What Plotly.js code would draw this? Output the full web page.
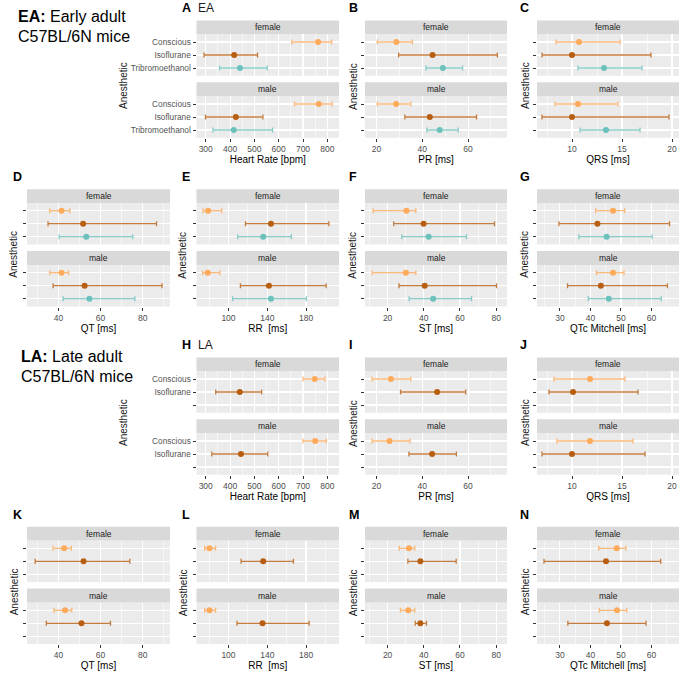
<!DOCTYPE html>
<html>
<head>
<meta charset="utf-8">
<script src="https://cdn.plot.ly/plotly-3.0.1.min.js"></script>
<style>
  html, body { margin: 0; padding: 0; background: #fff; }
  #fig { width: 685px; height: 682px; }
</style>
</head>
<body>
<div id="fig"></div>
<script>
// ECG intervals by anesthetic, faceted by sex — early adult (EA) vs late adult (LA)
const W = 685, H = 682;
const GROUPS = ['Conscious', 'Isoflurane', 'Tribromoethanol'];
const SEXES = ['female', 'male'];

// [sex, anesthetic, mean, lower, upper]
const HR_EA = [
  ['female', 'Conscious', 762, 654, 818], ['female', 'Isoflurane', 417, 293, 513], ['female', 'Tribromoethanol', 441, 357, 553],
  ['male', 'Conscious', 765, 665, 820], ['male', 'Isoflurane', 424, 299, 535], ['male', 'Tribromoethanol', 415, 330, 575],
];
const PR_EA = [
  ['female', 'Conscious', 28.7, 20.4, 35.7], ['female', 'Isoflurane', 44.5, 29.7, 72.8], ['female', 'Tribromoethanol', 49.0, 41.6, 57.6],
  ['male', 'Conscious', 28.6, 20.4, 35.0], ['male', 'Isoflurane', 43.3, 32.4, 63.7], ['male', 'Tribromoethanol', 47.6, 42.0, 55.7],
];
const QRS_EA = [
  ['female', 'Conscious', 10.7, 8.4, 14.8], ['female', 'Isoflurane', 10.0, 7.0, 17.9], ['female', 'Tribromoethanol', 13.2, 10.6, 17.0],
  ['male', 'Conscious', 10.6, 8.3, 14.6], ['male', 'Isoflurane', 10.0, 7.0, 19.7], ['male', 'Tribromoethanol', 13.4, 10.8, 16.8],
];
const QT_EA = [
  ['female', 'Conscious', 41.4, 35.8, 45.4], ['female', 'Isoflurane', 51.7, 35.0, 86.6], ['female', 'Tribromoethanol', 53.2, 40.3, 75.3],
  ['male', 'Conscious', 41.4, 35.8, 44.8], ['male', 'Isoflurane', 52.4, 37.4, 89.2], ['male', 'Tribromoethanol', 54.7, 42.2, 76.3],
];
const RR_EA = [
  ['female', 'Conscious', 78.9, 73.7, 93.0], ['female', 'Isoflurane', 143.8, 117.5, 203.5], ['female', 'Tribromoethanol', 135.8, 109.5, 164.9],
  ['male', 'Conscious', 78.6, 73.3, 91.2], ['male', 'Isoflurane', 141.7, 112.3, 200.7], ['male', 'Tribromoethanol', 143.8, 104.2, 180.3],
];
const ST_EA = [
  ['female', 'Conscious', 30.4, 12.0, 35.6], ['female', 'Isoflurane', 39.9, 23.4, 79.1], ['female', 'Tribromoethanol', 42.7, 27.8, 63.6],
  ['male', 'Conscious', 30.1, 11.5, 35.6], ['male', 'Isoflurane', 40.5, 26.3, 80.2], ['male', 'Tribromoethanol', 45.2, 31.9, 66.4],
];
const QTC_EA = [
  ['female', 'Conscious', 47.4, 41.7, 51.2], ['female', 'Isoflurane', 42.3, 29.7, 65.9], ['female', 'Tribromoethanol', 45.3, 36.2, 60.2],
  ['male', 'Conscious', 47.4, 42.0, 51.0], ['male', 'Isoflurane', 43.4, 32.5, 65.2], ['male', 'Tribromoethanol', 46.0, 39.3, 63.2],
];
const HR_LA = [
  ['female', 'Conscious', 748, 700, 790], ['female', 'Isoflurane', 440, 341, 530],
  ['male', 'Conscious', 750, 700, 796], ['male', 'Isoflurane', 445, 325, 555],
];
const PR_LA = [
  ['female', 'Conscious', 26.3, 18.1, 35.0], ['female', 'Isoflurane', 46.5, 30.5, 59.0],
  ['male', 'Conscious', 25.7, 18.1, 34.7], ['male', 'Isoflurane', 44.3, 34.2, 54.9],
];
const QRS_LA = [
  ['female', 'Conscious', 11.8, 8.2, 15.3], ['female', 'Isoflurane', 10.1, 7.7, 16.6],
  ['male', 'Conscious', 11.8, 8.5, 16.1], ['male', 'Isoflurane', 10.0, 7.0, 17.3],
];
const QT_LA = [
  ['female', 'Conscious', 42.7, 37.4, 46.1], ['female', 'Isoflurane', 51.9, 28.9, 73.9],
  ['male', 'Conscious', 43.1, 37.8, 46.3], ['male', 'Isoflurane', 50.9, 34.2, 64.7],
];
const RR_LA = [
  ['female', 'Conscious', 80.4, 75.4, 86.7], ['female', 'Isoflurane', 135.8, 113.0, 167.0],
  ['male', 'Conscious', 80.4, 75.4, 86.7], ['male', 'Isoflurane', 135.1, 108.8, 183.2],
];
const ST_LA = [
  ['female', 'Conscious', 31.8, 26.5, 35.0], ['female', 'Isoflurane', 38.1, 31.2, 57.9],
  ['male', 'Conscious', 31.4, 27.1, 35.0], ['male', 'Isoflurane', 38.1, 35.3, 41.5],
];
const QTC_LA = [
  ['female', 'Conscious', 48.6, 42.7, 51.6], ['female', 'Isoflurane', 45.1, 24.8, 63.0],
  ['male', 'Conscious', 48.7, 42.9, 51.9], ['male', 'Isoflurane', 45.4, 32.6, 58.2],
];

// axis scales shared between EA and LA
const AXES = {
  HR:  { title: 'Heart Rate [bpm]', range: [262, 848], tick0: 300, dtick: 100 },
  PR:  { title: 'PR [ms]', range: [15, 77], tick0: 20, dtick: 20 },
  QRS: { title: 'QRS [ms]', range: [6.5, 20.7], tick0: 10, dtick: 5 },
  QT:  { title: 'QT [ms]', range: [25, 93], tick0: 40, dtick: 20 },
  RR:  { title: 'RR\u00a0 [ms]', range: [67, 214], tick0: 100, dtick: 40 },
  ST:  { title: 'ST [ms]', range: [7.5, 86], tick0: 20, dtick: 20 },
  QTC: { title: 'QTc Mitchell [ms]', range: [22.5, 69], tick0: 30, dtick: 10 },
};

const COL = { Conscious: '#FDAA5A', Isoflurane: '#B85E10', Tribromoethanol: '#6BC1BB' };
const ERR = { Conscious: 'rgba(253,170,90,0.8)', Isoflurane: 'rgba(184,94,16,0.8)', Tribromoethanol: 'rgba(107,193,187,0.8)' };

const PANELS = [
  { tag: 'A', sub: 'EA', row: 0, col: 1, data: HR_EA, ax: 'HR', yt: GROUPS },
  { tag: 'B', row: 0, col: 2, data: PR_EA, ax: 'PR' },
  { tag: 'C', row: 0, col: 3, data: QRS_EA, ax: 'QRS' },
  { tag: 'D', row: 1, col: 0, data: QT_EA, ax: 'QT' },
  { tag: 'E', row: 1, col: 1, data: RR_EA, ax: 'RR' },
  { tag: 'F', row: 1, col: 2, data: ST_EA, ax: 'ST' },
  { tag: 'G', row: 1, col: 3, data: QTC_EA, ax: 'QTC' },
  { tag: 'H', sub: 'LA', row: 2, col: 1, data: HR_LA, ax: 'HR', yt: ['Conscious', 'Isoflurane', ''] },
  { tag: 'I', row: 2, col: 2, data: PR_LA, ax: 'PR' },
  { tag: 'J', row: 2, col: 3, data: QRS_LA, ax: 'QRS' },
  { tag: 'K', row: 3, col: 0, data: QT_LA, ax: 'QT' },
  { tag: 'L', row: 3, col: 1, data: RR_LA, ax: 'RR' },
  { tag: 'M', row: 3, col: 2, data: ST_LA, ax: 'ST' },
  { tag: 'N', row: 3, col: 3, data: QTC_LA, ax: 'QTC' },
];

// page geometry in pixels
const COLS = [[27, 170], [196.5, 339], [365, 507], [537, 679]];
const ROW_OFF = [0, 168.7, 337, 506.3];
const STRIP = [[20.5, 34.2], [82.2, 96.2]];
const PANEL = [[34.2, 75.8], [96.2, 137.8]];
const TAG_X = [11, 180, 347, 518];
const YT_X = [14, 183, 353, 525];

const FONT = 'Liberation Sans, Arial, Helvetica, sans-serif';
const px = v => v / W;
const py = v => 1 - v / H;

const traces = [], shapes = [], annotations = [];
const layout = {
  width: W, height: H, margin: { l: 0, r: 0, t: 0, b: 0 },
  paper_bgcolor: '#fff', plot_bgcolor: '#EBEBEB', showlegend: false,
  font: { family: FONT, size: 8, color: '#1A1A1A' },
};

let k = 0;
PANELS.forEach(p => {
  const off = ROW_OFF[p.row];
  const [cx0, cx1] = COLS[p.col];
  const ax = AXES[p.ax];
  SEXES.forEach((sex, si) => {
    k++;
    const sfx = k === 1 ? '' : String(k);
    const bottom = si === 1;
    const [t0, t1] = PANEL[si];
    layout['xaxis' + sfx] = {
      domain: [px(cx0), px(cx1)], anchor: 'y' + sfx, range: ax.range,
      tickmode: 'linear', tick0: ax.tick0, dtick: ax.dtick,
      showgrid: true, gridcolor: '#fff', gridwidth: 1.1, zeroline: false, showline: false,
      minor: { tick0: ax.tick0, dtick: ax.dtick / 2, showgrid: true, gridcolor: '#fff', gridwidth: 0.55, ticks: '' },
      ticks: bottom ? 'outside' : '', ticklen: 3, tickwidth: 1, tickcolor: '#333',
      showticklabels: bottom, tickfont: { size: 8.5, color: '#4D4D4D' },
      title: bottom ? { text: ax.title, font: { size: 10, color: '#000' }, standoff: 0 } : { text: '' },
      automargin: false, fixedrange: true,
    };
    layout['yaxis' + sfx] = {
      domain: [py(t1 + off), py(t0 + off)], anchor: 'x' + sfx, range: [2.6, -0.6],
      tickmode: 'array', tickvals: [0, 1, 2], ticktext: p.yt || ['', '', ''],
      showgrid: true, gridcolor: '#fff', gridwidth: 1.1, zeroline: false, showline: false,
      ticks: 'outside', ticklen: 3, tickwidth: 1, tickcolor: '#333',
      tickfont: { size: 8.3, color: '#555' }, automargin: false, fixedrange: true,
    };
    const [s0, s1] = STRIP[si];
    shapes.push({
      type: 'rect', xref: 'paper', yref: 'paper', layer: 'below',
      x0: px(cx0), x1: px(cx1), y0: py(s1 + off), y1: py(s0 + off),
      fillcolor: '#D9D9D9', line: { width: 0 },
    });
    annotations.push({
      xref: 'paper', yref: 'paper', x: px((cx0 + cx1) / 2), y: py((s0 + s1) / 2 + off),
      text: sex, showarrow: false, xanchor: 'center', yanchor: 'middle',
      font: { size: 8.5, color: '#1A1A1A' },
    });
    GROUPS.forEach(g => {
      const rows = p.data.filter(r => r[0] === sex && r[1] === g);
      if (!rows.length) return;
      traces.push({
        type: 'scatter', mode: 'markers', xaxis: 'x' + sfx, yaxis: 'y' + sfx,
        x: rows.map(r => r[2]), y: rows.map(r => GROUPS.indexOf(r[1])),
        error_x: {
          type: 'data', symmetric: false,
          array: rows.map(r => r[4] - r[2]), arrayminus: rows.map(r => r[2] - r[3]),
          color: ERR[g], thickness: 1.3, width: 2.5,
        },
        marker: { color: COL[g], size: 6 }, hoverinfo: 'skip',
      });
    });
  });

  // panel tag and shared y title
  annotations.push({
    xref: 'paper', yref: 'paper', x: px(TAG_X[p.col]), y: py(8.3 + off),
    text: '<b>' + p.tag + '</b>', showarrow: false, xanchor: 'left', yanchor: 'middle',
    font: { size: 12.5, color: '#000' },
  });
  if (p.sub) {
    annotations.push({
      xref: 'paper', yref: 'paper', x: px(196), y: py(8.3 + off),
      text: p.sub, showarrow: false, xanchor: 'left', yanchor: 'middle',
      font: { size: 12, color: '#1A1A1A' },
    });
  }
  annotations.push({
    xref: 'paper', yref: 'paper', x: px(p.yt ? 123 : YT_X[p.col]), y: py(86 + off),
    text: 'Anesthetic', textangle: -90, showarrow: false, xanchor: 'center', yanchor: 'middle',
    font: { size: 10, color: '#1A1A1A' },
  });
});

// cohort headings
[['<b>EA:</b> Early adult', 16, 16.7], ['C57BL/6N mice', 16, 36.7],
 ['<b>LA:</b> Late adult', 19, 356.7], ['C57BL/6N mice', 19, 376.7]].forEach(([t, x, y]) => {
  annotations.push({
    xref: 'paper', yref: 'paper', x: px(x), y: py(y), text: t, showarrow: false,
    xanchor: 'left', yanchor: 'middle', font: { size: 16, color: '#000' },
  });
});

layout.shapes = shapes;
layout.annotations = annotations;
Plotly.newPlot('fig', traces, layout, { staticPlot: true, displayModeBar: false });
</script>
</body>
</html>
